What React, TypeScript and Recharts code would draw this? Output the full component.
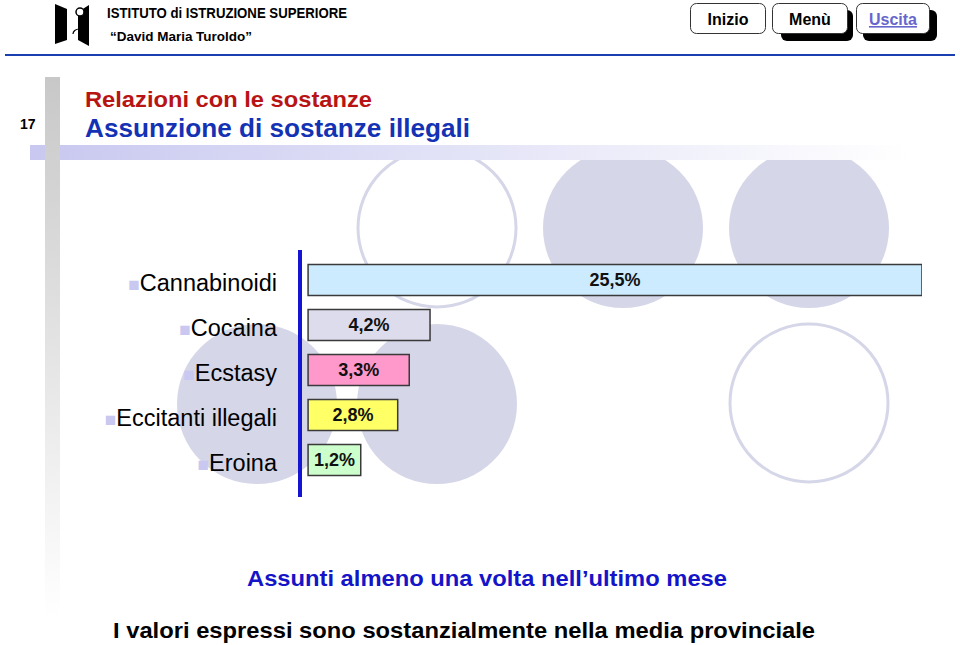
import React from "react";
import { Bar, BarChart, Cell, LabelList, XAxis, YAxis } from "recharts";

const categories = ["Cannabinoidi", "Cocaina", "Ecstasy", "Eccitanti illegali", "Eroina"];
const values = [25.5, 4.2, 3.3, 2.8, 1.2];
const barColors = ["#CCEBFF", "#DCDCEC", "#FF99CC", "#FFFF66", "#CCFFCC"];

// the slide's bars are not drawn to scale from zero, so the axis starts a bit below it
const AXIS_MIN = -1.43;
const BAR_BASE = -1.08;
const AXIS_MAX = 25.5;

const FONT = "'Liberation Sans', Arial, sans-serif";

const data = categories.map((name, i) => ({
  name,
  value: values[i],
  span: [BAR_BASE, values[i]],
}));

const fmt = (v: any) => Number(v).toFixed(1).replace(".", ",") + "%";

function CategoryTick(props: any) {
  const { y, payload } = props;
  return (
    <text x={277} y={y} dy={11} textAnchor="end" fontFamily={FONT} fontSize={23.5} fill="#000">
      <tspan fill="#C8C8F0" fontSize={19}>■</tspan>
      <tspan>{payload.value}</tspan>
    </text>
  );
}

function Background() {
  const fillC = "#D5D6E8";
  return (
    <svg width={960} height={645} style={{ position: "absolute", left: 0, top: 0 }}>
      <defs>
        <linearGradient id="band" x1="0" x2="1" y1="0" y2="0">
          <stop offset="0" stopColor="#C8C8F0" />
          <stop offset="1" stopColor="#FFFFFF" />
        </linearGradient>
        <linearGradient id="vbar" x1="0" x2="0" y1="0" y2="1">
          <stop offset="0" stopColor="#C8C8C8" />
          <stop offset="1" stopColor="#FFFFFF" />
        </linearGradient>
        <clipPath id="below">
          <rect x={0} y={160} width={960} height={485} />
        </clipPath>
      </defs>
      <g clipPath="url(#below)">
        <circle cx={437} cy={228} r={79} fill="#fff" stroke={fillC} strokeWidth={3} />
        <circle cx={623} cy={228} r={80} fill={fillC} />
        <circle cx={809} cy={228} r={80} fill={fillC} />
        <circle cx={257} cy={404} r={80} fill={fillC} />
        <circle cx={437} cy={404} r={80} fill={fillC} />
        <circle cx={809} cy={403} r={79} fill="#fff" stroke={fillC} strokeWidth={3} />
      </g>
      <rect x={30} y={145} width={880} height={15} fill="url(#band)" />
      <rect x={45} y={77} width={15} height={540} fill="url(#vbar)" />
      <line x1={5} x2={955} y1={55} y2={55} stroke="#1A3FB0" strokeWidth={2} />
      {/* logo */}
      <polygon points="55,4 67,9 67,40 55,44" fill="#000" />
      <polygon points="78,12 89,5 89,46 78,40" fill="#000" />
      <circle cx={80} cy={12} r={4} fill="#fff" stroke="#000" strokeWidth={1.5} />
      <path d="M73,34 A6,5 0 0 1 85,34" fill="none" stroke="#000" strokeWidth={1.2} />
      {/* buttons */}
      <rect x={781} y={10} width={72} height={31} rx={6} fill="#000" />
      <rect x={863} y={10} width={74} height={31} rx={6} fill="#000" />
      <rect x={690.5} y={3.5} width={75} height={30} rx={6} fill="#fff" stroke="#333" />
      <rect x={772.5} y={3.5} width={75} height={30} rx={6} fill="#fff" stroke="#333" />
      <rect x={856.5} y={3.5} width={73} height={30} rx={6} fill="#fff" stroke="#333" />
      <text x={728} y={25} textAnchor="middle" fontFamily={FONT} fontWeight="bold" fontSize={16}>Inizio</text>
      <text x={810} y={25} textAnchor="middle" fontFamily={FONT} fontWeight="bold" fontSize={16}>Menù</text>
      <text x={893} y={25} textAnchor="middle" fontFamily={FONT} fontWeight="bold" fontSize={16} fill="#6666CC" textDecoration="underline">Uscita</text>
      <text x={107} y={18} fontFamily={FONT} fontWeight="bold" fontSize={15} textLength={240} lengthAdjust="spacingAndGlyphs">ISTITUTO di ISTRUZIONE SUPERIORE</text>
      <text x={110} y={41} fontFamily={FONT} fontWeight="bold" fontSize={13} textLength={142} lengthAdjust="spacingAndGlyphs">“David Maria Turoldo”</text>
      <text x={20} y={129} fontFamily={FONT} fontWeight="bold" fontSize={14}>17</text>
      <text x={85} y={107} fontFamily={FONT} fontWeight="bold" fontSize={22} fill="#B81414" textLength={287} lengthAdjust="spacingAndGlyphs">Relazioni con le sostanze</text>
      <text x={85} y={137} fontFamily={FONT} fontWeight="bold" fontSize={25} fill="#1432B4" textLength={385} lengthAdjust="spacingAndGlyphs">Assunzione di sostanze illegali</text>
      <text x={247} y={586} fontFamily={FONT} fontWeight="bold" fontSize={22} fill="#1414C8" textLength={480} lengthAdjust="spacingAndGlyphs">Assunti almeno una volta nell’ultimo mese</text>
      <text x={113} y={638} fontFamily={FONT} fontWeight="bold" fontSize={22} fill="#000" textLength={702} lengthAdjust="spacingAndGlyphs">I valori espressi sono sostanzialmente nella media provinciale</text>
    </svg>
  );
}

export default function App() {
  return (
    <div style={{ position: "absolute", left: 0, top: 0, width: 960, height: 645, background: "#fff", overflow: "hidden" }}>
      <Background />
      <div style={{ position: "absolute", left: 0, top: 0 }}>
        <BarChart
          width={960}
          height={645}
          data={data}
          layout="vertical"
          margin={{ top: 250, right: 38, bottom: 148, left: 0 }}
          barSize={31}
        >
          <XAxis type="number" domain={[AXIS_MIN, AXIS_MAX]} allowDataOverflow hide />
          <YAxis
            type="category"
            dataKey="name"
            width={300}
            axisLine={{ stroke: "#1414D2", strokeWidth: 4 }}
            tickLine={false}
            tick={<CategoryTick />}
            padding={{ top: 7.5, bottom: 14.5 }}
            interval={0}
          />
          <Bar dataKey="span" stroke="#3A3A3A" strokeWidth={1.5} isAnimationActive={false}>
            {data.map((d, i) => (
              <Cell key={d.name} fill={barColors[i]} />
            ))}
            <LabelList
              dataKey="value"
              position="center"
              formatter={fmt}
              style={{ fontFamily: FONT, fontWeight: "bold", fontSize: 18, fill: "#111" }}
            />
          </Bar>
        </BarChart>
      </div>
    </div>
  );
}
